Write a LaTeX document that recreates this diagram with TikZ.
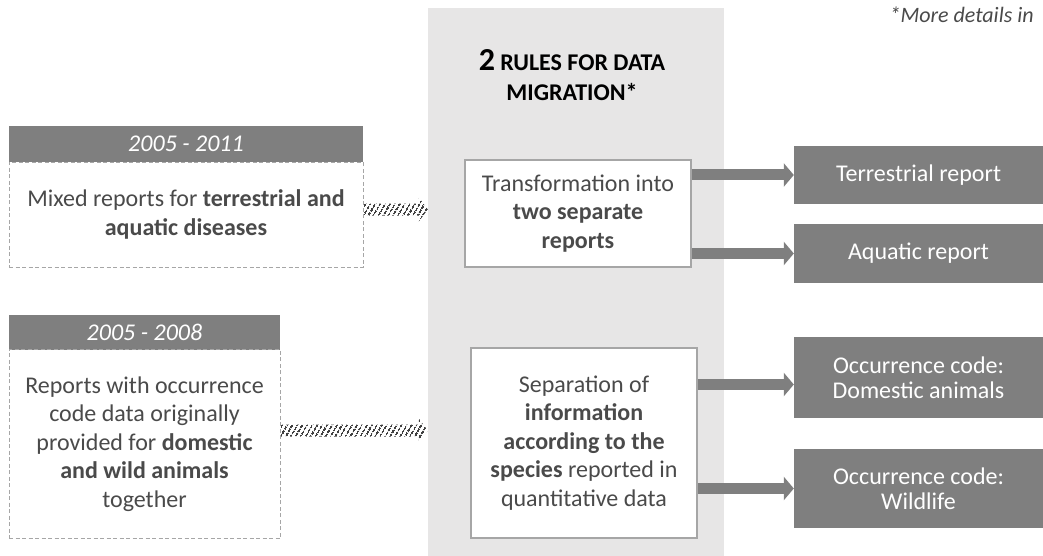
\documentclass[tikz,border=0pt]{standalone}
\usepackage{fontspec}
\setmainfont{Carlito}
\usepackage{tikz}
\usetikzlibrary{positioning,arrows.meta,calc,patterns.meta}
\definecolor{migDark}{HTML}{7F7F7F}
\definecolor{migColumn}{HTML}{E7E6E6}
\definecolor{migText}{HTML}{4A4A4A}
\definecolor{migBorder}{HTML}{A6A6A6}
\definecolor{migHatch}{HTML}{404040}
\tikzset{
  yearHead/.style={fill=migDark, text=white, font=\itshape\fontsize{24}{28.5}\selectfont, inner sep=0pt, outer sep=0pt},
  oldBody/.style={draw=migBorder, dash pattern=on 4pt off 2.5pt, line width=0.9pt, fill=white, text=migText, align=center, inner sep=0pt, outer sep=0pt},
  ruleBox/.style={draw=migBorder, line width=1.5pt, fill=white, text=migText, align=center, inner sep=0pt, minimum width=226pt},
  outBox/.style={fill=migDark, text=white, align=center, minimum width=249pt, inner sep=0pt, font=\fontsize{24}{25}\selectfont},
  hatchArrow/.style={pattern={Lines[angle=60,distance=4pt,line width=1.8pt]}, pattern color=migHatch},
  arrow/.style={-{Triangle[width=23pt,length=10pt]}, line width=11pt, draw=migDark}
}

\begin{document}
\begin{tikzpicture}[x=1pt, y=-1pt, font=\fontsize{24}{28.5}\selectfont]
  \useasboundingbox (0,0) rectangle (1043,556);
  % grey band with the two rules
  \node[fill=migColumn, minimum width=296pt, minimum height=548pt, inner sep=0pt, anchor=north] (rules) at (576,8) {};
  \node[align=center, font=\bfseries\fontsize{24}{30}\selectfont] (title) at (572,75) {{\fontsize{32}{30}\selectfont 2} RULES FOR DATA\\MIGRATION*};
  \node[anchor=base west, text=migText, font=\itshape\fontsize{22}{26}\selectfont] (note) at (886,23) {*More details in};

  % old reports
  \node[yearHead, minimum width=354pt, minimum height=36pt] (year1) at (186,144) {2005 - 2011};
  \node[oldBody, below=0pt of year1, minimum width=354pt, minimum height=105pt] (old1) {Mixed reports for \textbf{terrestrial and}\\\textbf{aquatic diseases}};
  \node[yearHead, minimum width=271pt, minimum height=35pt] (year2) at (144.5,332) {2005 - 2008};
  \node[oldBody, below=0pt of year2, minimum width=271pt, minimum height=189pt] (old2) {Reports with occurrence\\code data originally\\provided for \textbf{domestic}\\\textbf{and wild animals}\\together};

  % rules
  \node[ruleBox, minimum height=107pt] (trans) at (578,213.5) {Transformation into\\\textbf{two separate}\\\textbf{reports}};
  \node[ruleBox, minimum height=190pt] (sep) at (584,443) {Separation of\\\textbf{information}\\\textbf{according to the}\\\textbf{species} reported in\\quantitative data};

  % new reports
  \node[outBox, minimum height=58pt] (terr) at (918.5,175) {Terrestrial report};
  \node[outBox, minimum height=59pt] (aqua) at (918.5,253.5) {Aquatic report};
  \node[outBox, minimum height=81pt] (dom) at (918.5,377.5) {Occurrence code:\\Domestic animals};
  \node[outBox, minimum height=79pt] (wild) at (918.5,488.5) {Occurrence code:\\Wildlife};

  % hatched arrows into the rules
  \coordinate (h1s) at ([yshift=5pt]old1.east);
  \coordinate (h1t) at (rules.west |- h1s);
  \fill[hatchArrow] ($(h1s)+(1,-6)$) -- ($(h1t)+(-9,-6)$) -- ($(h1t)+(-9,-12)$) -- (h1t)
    -- ($(h1t)+(-9,12)$) -- ($(h1t)+(-9,6)$) -- ($(h1s)+(1,6)$) -- cycle;
  \coordinate (h2s) at ([yshift=13.5pt]old2.east);
  \coordinate (h2t) at (rules.west |- h2s);
  \fill[hatchArrow] ($(h2s)+(1,-6)$) -- ($(h2t)+(-9,-6)$) -- ($(h2t)+(-9,-12)$) -- (h2t)
    -- ($(h2t)+(-9,12)$) -- ($(h2t)+(-9,6)$) -- ($(h2s)+(1,6)$) -- cycle;

  % arrows out of the rules
  \coordinate (domIn) at ([yshift=-7pt]dom.west);
  \draw[arrow] (trans.east |- terr.west) -- (terr.west);
  \draw[arrow] (trans.east |- aqua.west) -- (aqua.west);
  \draw[arrow] (sep.east |- domIn) -- (domIn);
  \draw[arrow] (sep.east |- wild.west) -- (wild.west);
\end{tikzpicture}
\end{document}
